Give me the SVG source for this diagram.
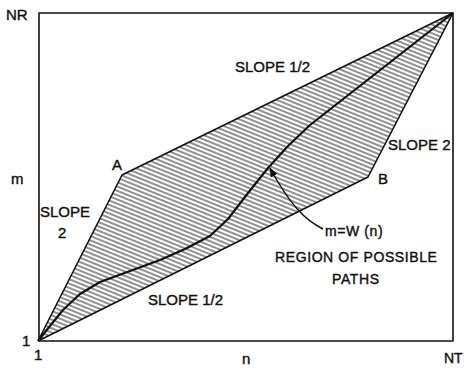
<svg xmlns="http://www.w3.org/2000/svg" width="464" height="370" viewBox="0 0 464 370">
<style>
text{font-family:"Liberation Sans",Arial,sans-serif;fill:#111;stroke:#111;stroke-width:0.4}
.s{font-size:15px}
.r{font-size:14px;letter-spacing:0.6px}
.ln{fill:none;stroke:#111;stroke-width:1.6;stroke-linejoin:round}
</style>
<defs>
<pattern id="hatch" patternUnits="userSpaceOnUse" width="12" height="4" patternTransform="rotate(22)">
<line x1="0" y1="1" x2="12" y2="1" stroke="#222" stroke-width="1"/>
</pattern>
<marker id="ah" viewBox="0 0 10 10" refX="9" refY="5" markerWidth="7" markerHeight="7" orient="auto">
<path d="M0,1 L10,5 L0,9 Z" fill="#111"/>
</marker>
</defs>
<g id="frame">
<rect x="39" y="13" width="414" height="328" class="ln"/>
</g>
<g id="region">
<polygon points="38,341 122,175 453,13 368,177" fill="url(#hatch)" stroke="none"/>
</g>
<g id="connectors">
<polyline class="ln" points="38,341 122,175 453,13"/>
<polyline class="ln" points="38,341 368,177 453,13"/>
<polyline class="ln" style="stroke-width:2.2" points="38,341 50,326 63,310 80,294 100,282 130,271 160,260 185,249 210,236 228,219 248,193 268,168 288,146 310,125 453,13"/>
<path class="ln" style="stroke-width:1.4" d="M323,229 C305,220 290,205 270,168" marker-end="url(#ah)"/>
</g>
<g id="labels">
<text x="6" y="20" style="font-size:15px">NR</text>
<text x="11" y="184" class="s">m</text>
<text x="22" y="346" class="s">1</text>
<text x="34" y="360" class="s">1</text>
<text x="242" y="364" class="s">n</text>
<text x="444" y="363" style="font-size:14px">NT</text>
<text x="235" y="72" class="s">SLOPE 1/2</text>
<text x="112" y="170" class="s">A</text>
<text x="40" y="217" class="s">SLOPE</text>
<text x="58" y="238" class="s">2</text>
<text x="148" y="305" class="s">SLOPE 1/2</text>
<text x="378" y="184" class="s">B</text>
<text x="388" y="150" class="s">SLOPE 2</text>
<text x="325" y="236" class="r">m=W (n)</text>
<text x="275" y="262" class="r">REGION OF POSSIBLE</text>
<text x="332" y="284" class="r">PATHS</text>
</g>
</svg>
